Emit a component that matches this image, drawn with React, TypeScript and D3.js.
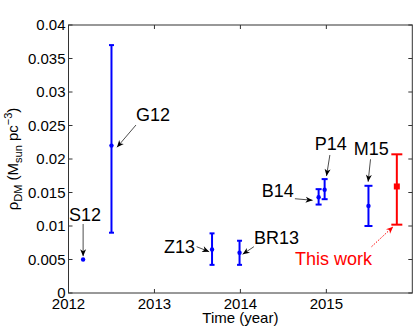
import React from 'react';
import * as d3 from 'd3';

// measurements (year of publication, local dark matter density in Msun/pc^3)
const names = ['S12', 'G12', 'Z13', 'BR13', 'B14', 'P14', 'M15', 'This work'];
const years = [2012.17, 2012.5, 2013.67, 2013.99, 2014.91, 2014.98, 2015.49, 2015.82];
const values = [0.005, 0.022, 0.0065, 0.006, 0.0143, 0.0154, 0.013, 0.0159];
const lower = [0.005, 0.009, 0.0042, 0.0042, 0.0132, 0.014, 0.01, 0.0102];
const upper = [0.005, 0.037, 0.0089, 0.0078, 0.0155, 0.017, 0.016, 0.0207];

const xTicks = [2012, 2013, 2014, 2015];
const yTicks = [0, 0.005, 0.01, 0.015, 0.02, 0.025, 0.03, 0.035, 0.04];

// label annotations in data units: text anchor point, arrow start, arrow end
const labelX = [2012.006, 2012.785, 2013.471, 2014.157, 2014.622, 2014.866, 2015.32, 2014.634];
const labelY = [0.01075, 0.02572, 0.00593, 0.00727, 0.01433, 0.02134, 0.0206, 0.00418];
const arrowFromX = [2012.17, 2012.785, 2013.491, 2014.157, 2014.634, 2015.041, 2015.514, 2015.526];
const arrowFromY = [0.0103, 0.02507, 0.00691, 0.00691, 0.01407, 0.0206, 0.01996, 0.00691];
const arrowToX = [2012.17, 2012.564, 2013.637, 2014.026, 2014.84, 2015.002, 2015.486, 2015.777];
const arrowToY = [0.0055, 0.02175, 0.00616, 0.00578, 0.01384, 0.01746, 0.01661, 0.0099];

const width = 415;
const height = 330;
const margin = { left: 68.5, right: 2.7, top: 25, bottom: 37 };
const font = '"Liberation Sans", Arial, Helvetica, sans-serif';

const capHalf: Record<string, number> = {
  G12: 2.5, Z13: 2.5, BR13: 2.5, B14: 3, P14: 3, M15: 4, 'This work': 5.5,
};

function arrowHead(x1: number, y1: number, x2: number, y2: number) {
  const a = Math.atan2(y2 - y1, x2 - x1);
  const len = 7, half = 3, notch = 5;
  const ux = Math.cos(a), uy = Math.sin(a);
  const px = -uy, py = ux;
  const bx = x2 - ux * len, by = y2 - uy * len;
  const nx = x2 - ux * notch, ny = y2 - uy * notch;
  return `M${x2},${y2}L${bx + px * half},${by + py * half}L${nx},${ny}L${bx - px * half},${by - py * half}Z`;
}

export default function App() {
  const x = d3.scaleLinear().domain([2012, 2016]).range([margin.left, width - margin.right]);
  const y = d3.scaleLinear().domain([0, 0.04]).range([height - margin.bottom, margin.top]);
  const [x0, x1] = x.range();
  const [y0, y1] = y.range();
  const tick = 4;
  const fmt = d3.format('~g');

  return (
    <svg width={width} height={height} style={{ position: 'absolute', left: 0, top: 0, background: '#fff' }}>
      <rect x={0} y={0} width={width} height={height} fill="#fff" />

      {/* axes box */}
      <rect x={x0} y={y1} width={x1 - x0} height={y0 - y1} fill="none" stroke="#333" strokeWidth={1} />
      {yTicks.map((t) => (
        <g key={'y' + t}>
          <line x1={x0} x2={x0 + tick} y1={y(t)} y2={y(t)} stroke="#333" />
          <line x1={x1} x2={x1 - tick} y1={y(t)} y2={y(t)} stroke="#333" />
          <text x={x0 - 3} y={y(t)} dy="0.35em" textAnchor="end" fontFamily={font} fontSize={15}>
            {fmt(t)}
          </text>
        </g>
      ))}
      {xTicks.map((t) => (
        <g key={'x' + t}>
          <line x1={x(t)} x2={x(t)} y1={y0} y2={y0 - tick} stroke="#333" />
          <line x1={x(t)} x2={x(t)} y1={y1} y2={y1 + tick} stroke="#333" />
          <text x={x(t)} y={y0 + 15.5} textAnchor="middle" fontFamily={font} fontSize={15}>
            {t}
          </text>
        </g>
      ))}
      <text x={(x0 + x1) / 2} y={y0 + 30} textAnchor="middle" fontFamily={font} fontSize={15}>
        Time (year)
      </text>
      <text transform={`translate(18,${(y0 + y1) / 2}) rotate(-90)`} textAnchor="middle" fontFamily={font} fontSize={15}>
        ρ<tspan fontSize={11} dy={4}>DM</tspan>
        <tspan dy={-4}> (M</tspan>
        <tspan fontSize={11} dy={4}>sun</tspan>
        <tspan dy={-4}> pc</tspan>
        <tspan fontSize={11} dy={-6}>−3</tspan>
        <tspan dy={6}>)</tspan>
      </text>

      {/* error bars and markers */}
      {names.map((n, i) => {
        const red = n === 'This work';
        const c = red ? '#ff0000' : '#0000ff';
        const cx = x(years[i]);
        const h = capHalf[n] ?? 0;
        return (
          <g key={n}>
            {upper[i] !== lower[i] && (
              <g stroke={c} strokeWidth={2}>
                <line x1={cx} x2={cx} y1={y(lower[i])} y2={y(upper[i])} />
                <line x1={cx - h} x2={cx + h} y1={y(lower[i])} y2={y(lower[i])} />
                <line x1={cx - h} x2={cx + h} y1={y(upper[i])} y2={y(upper[i])} />
              </g>
            )}
            {red ? (
              <rect x={cx - 3} y={y(values[i]) - 3} width={6} height={6} fill={c} />
            ) : (
              <circle cx={cx} cy={y(values[i])} r={2.2} fill={c} />
            )}
          </g>
        );
      })}

      {/* annotations */}
      {names.map((n, i) => {
        const red = n === 'This work';
        const c = red ? '#ff0000' : '#000';
        const ax1 = x(arrowFromX[i]), ay1 = y(arrowFromY[i]);
        const ax2 = x(arrowToX[i]), ay2 = y(arrowToY[i]);
        const anchorEnd = n === 'Z13' || n === 'B14';
        return (
          <g key={'a' + n}>
            <line x1={ax1} y1={ay1} x2={ax2} y2={ay2} stroke={c} strokeWidth={red ? 1 : 0.7}
              strokeDasharray={red ? '1.5,1.5' : undefined} />
            <path d={arrowHead(ax1, ay1, ax2, ay2)} fill={c} />
            <text x={x(labelX[i])} y={y(labelY[i])} textAnchor={anchorEnd ? 'end' : 'start'}
              fontFamily={font} fontSize={18} fill={c}>
              {n}
            </text>
          </g>
        );
      })}
    </svg>
  );
}
